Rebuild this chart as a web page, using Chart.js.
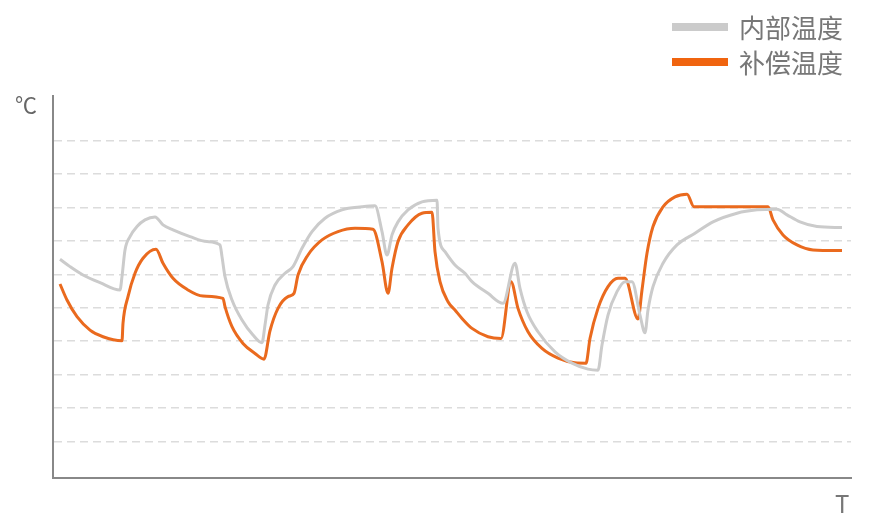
<!DOCTYPE html>
<html>
<head>
<meta charset="utf-8">
<script src="https://cdn.jsdelivr.net/npm/chart.js@4"></script>
<style>
  body { margin: 0; background: #fff; }
  #wrap { position: relative; width: 890px; height: 528px; font-family: "Noto Sans CJK SC", "Noto Sans", sans-serif; color: #777; }
  .sw { position: absolute; left: 672px; width: 56px; height: 8px; }
  .lbl { position: absolute; left: 739px; font-size: 26px; line-height: 32px; }
  #unit { position: absolute; left: 15px; top: 89px; font-size: 22px; line-height: 28px; color: #666; }
  #tlbl { position: absolute; left: 835px; top: 488px; font-size: 24px; line-height: 30px; color: #777; }
</style>
</head>
<body>
<div id="wrap">
  <canvas id="tempChart"></canvas>
  <div class="sw" style="top:23px;background:#cbcbcb"></div>
  <div class="lbl" style="top:11px">内部温度</div>
  <div class="sw" style="top:58px;background:#f0640f"></div>
  <div class="lbl" style="top:46px">补偿温度</div>
  <div id="unit">℃</div>
  <div id="tlbl">T</div>
</div>
<script>
// ================= DATA =================
const gridVals = [10, 20, 30, 40, 50, 60, 70, 80, 90, 100];

// 内部温度 (internal temperature)
const innerT = [7, 17, 30, 47, 67, 69, 72, 77, 84, 92, 102, 110, 120, 137, 154, 167,
  169, 172, 179, 189, 200, 209, 212, 215, 222, 232, 240, 249, 259, 272, 289, 309, 322,
  329, 334, 339, 345, 355, 369, 384, 385, 392, 402, 412, 419, 435, 450,
  462, 467, 474, 485, 502, 519, 535, 545, 549, 555, 564, 572, 579, 587, 592,
  595, 600, 610, 624, 642, 660, 684, 704, 724, 734, 747, 764, 789];
const innerV = [64.5, 62.3, 59.8, 57.5, 55.3, 59.3, 67.3, 71.3, 74.3, 76.3, 77.2, 74.8, 73.3, 71.3, 69.8, 68.8,
  65.3, 59.3, 52.3, 46.3, 41.8, 39.5, 44.8, 50.8, 56.8, 60.3, 62.3, 67.8, 72.8, 76.8, 79.3, 80.2, 80.5,
  72.8, 65.8, 71.8, 75.7, 79.3, 81.7, 82.2, 73.8, 66.8, 62.8, 60.3, 57.8, 54.3, 51.3,
  63.3, 55.8, 48.8, 42.8, 36.8, 33.4, 31.6, 31.3, 38.8, 47.8, 54.8, 57.8, 57.8, 47.8, 42.5,
  49.3, 56.3, 63.3, 68.8, 72.3, 75.7, 78.3, 79.3, 79.5, 77.8, 75.7, 74.3, 74.0];

// 补偿温度 (compensated temperature)
const compT = [7, 14, 24, 37, 50, 69, 70, 75, 82, 90, 103, 110, 120, 134, 150, 170,
  172, 179, 190, 202, 211, 217, 225, 235, 241, 245, 255, 269, 285, 302, 320,
  329, 335, 339, 345, 355, 369, 379, 382, 387, 395, 402, 409, 419, 435, 448,
  458, 465, 475, 489, 505, 522, 533, 537, 545, 555, 565, 572, 585,
  589, 594, 600, 610, 622, 634, 641, 715, 720, 730, 744, 760, 789];
const compV = [57.1, 52.3, 47.3, 43.3, 41.3, 40.1, 45.3, 53.3, 60.3, 64.8, 67.5, 63.3, 58.8, 55.5, 53.5, 52.8,
  50.3, 44.3, 39.3, 36.3, 34.6, 43.1, 49.8, 53.3, 54.3, 59.8, 65.8, 70.3, 72.8, 73.8, 73.5,
  63.8, 54.3, 61.8, 69.8, 74.8, 78.3, 78.6, 66.8, 57.8, 51.8, 49.3, 46.8, 43.8, 41.3, 40.8,
  57.8, 49.8, 42.8, 37.8, 34.9, 33.5, 33.4, 40.8, 49.8, 56.3, 58.8, 58.8, 46.6,
  55.3, 66.3, 74.3, 80.2, 83.2, 84.0, 80.2, 80.2, 76.3, 71.8, 68.8, 67.3, 67.1];

const toPts = (ts, vs) => ts.map((t, i) => ({ x: t, y: vs[i] }));

// ================= TEMPERATURE CHART =================
new Chart(document.getElementById("tempChart"), {
    type: "line",
    data: {
        datasets: [
            {
                label: "内部温度",
                data: toPts(innerT, innerV),
                borderColor: "#cbcbcb",
                borderWidth: 3,
                pointRadius: 0,
                cubicInterpolationMode: "monotone",
                fill: false
            },
            {
                label: "补偿温度",
                data: toPts(compT, compV),
                borderColor: "#ea6a1e",
                borderWidth: 3,
                pointRadius: 0,
                cubicInterpolationMode: "monotone",
                fill: false
            }
        ]
    },
    options: {
        responsive: true,
        maintainAspectRatio: false,
        animation: false,
        layout: { padding: { left: 53, right: 39, top: 96, bottom: 50 } },
        plugins: { legend: { display: false }, tooltip: { enabled: false } },
        scales: {
            x: {
                type: "linear",
                min: 0,
                max: 798,
                grid: { display: false, drawTicks: false },
                ticks: { display: false },
                border: { color: "#888", width: 2 }
            },
            y: {
                min: -1,
                max: 113.4,
                afterBuildTicks: s => { s.ticks = gridVals.map(v => ({ value: v })); },
                grid: { color: "#dcdcdc", lineWidth: 1.5, drawTicks: false },
                ticks: { display: false },
                border: { color: "#888", width: 2, dash: [8, 5] }
            }
        }
    }
});
</script>
</body>
</html>
